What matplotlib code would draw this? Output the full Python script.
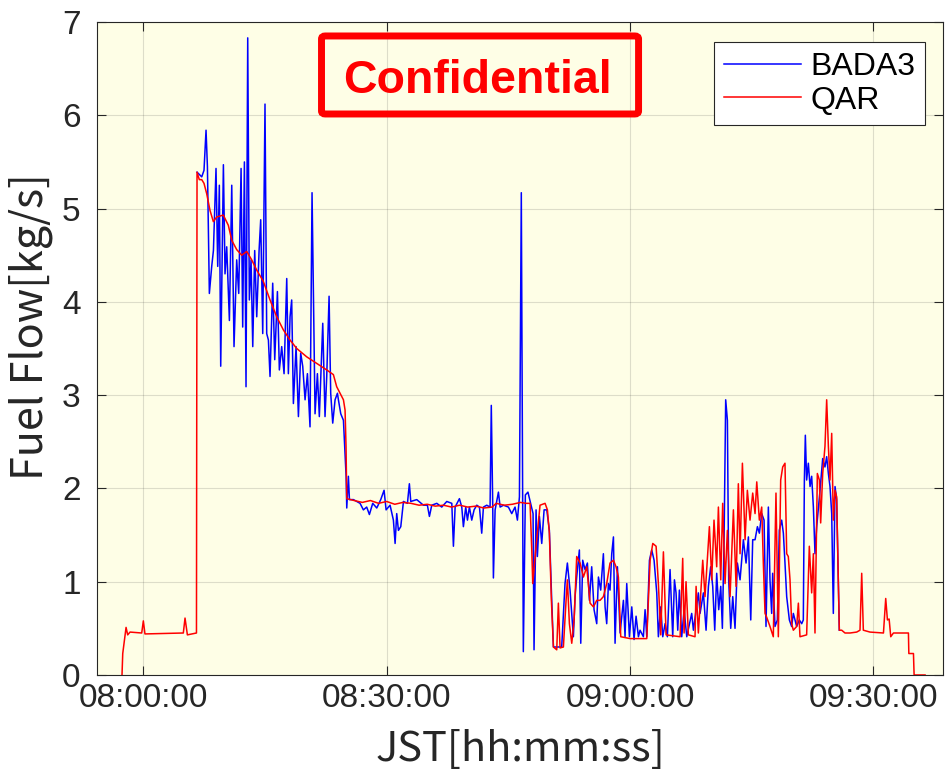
"""Fuel flow comparison: BADA3 model estimate vs. QAR recorded fuel flow."""

import matplotlib

matplotlib.use("Agg")
import matplotlib.pyplot as plt
from matplotlib.patches import FancyBboxPatch

# time in minutes after 08:00:00 JST, fuel flow in kg/s
qar_t = [
    -2.63, -2.54, -2.13, -1.93, -1.64, -0.20, 0.00, 0.20, 4.93, 5.14, 5.43, 6.55,
    6.62, 6.90, 7.20, 7.48, 7.81, 8.22, 8.63, 9.05, 9.86, 10.48, 10.90, 11.51,
    12.13, 12.75, 13.36, 13.98, 14.79, 15.62, 16.44, 17.26, 18.09, 18.91, 20.15,
    21.38, 22.61, 23.43, 23.84, 24.26, 24.67, 24.87, 24.99, 25.08, 26.0, 27.0,
    28.0, 29.0, 30.0, 31.0, 32.0, 33.0, 34.0, 35.0, 36.0, 37.0, 38.0, 39.0, 40.0,
    41.0, 42.0, 43.0, 43.5, 44.5, 45.5, 46.5, 47.2, 47.68, 47.89, 48.01, 48.30,
    48.58, 48.91, 49.53, 49.82, 50.06, 50.31, 50.56, 50.97, 51.17, 51.38, 51.79,
    52.12, 52.28, 52.53, 52.82, 53.11, 53.43, 53.85, 54.26, 54.67, 55.08, 55.49,
    55.90, 56.31, 56.72, 57.13, 57.54, 57.96, 58.28, 58.57, 58.86, 60.01, 62.07,
    62.48, 62.81, 63.22, 63.50, 63.79, 64.12, 64.45, 66.18, 66.50, 66.67, 66.91,
    67.20, 68.02, 68.15, 68.43, 68.97, 69.25, 69.79, 70.08, 70.36, 70.69, 70.90,
    71.19, 71.43, 71.72, 72.01, 72.34, 72.75, 73.08, 73.36, 73.57, 73.86, 74.19,
    74.47, 74.80, 75.13, 75.42, 75.63, 75.95, 76.24, 76.44, 76.65, 76.85, 77.26,
    77.67, 78.00, 78.29, 78.58, 78.83, 79.11, 79.32, 79.52, 79.73, 79.93, 80.14,
    80.55, 80.76, 80.96, 81.78, 82.11, 82.40, 82.61, 82.81, 83.10, 83.35, 83.51,
    83.76, 84.04, 84.25, 84.46, 84.66, 84.87, 85.07, 85.28, 85.48, 85.69, 85.81,
    86.10, 86.51, 87.13, 87.95, 88.36, 88.57, 88.77, 89.59, 91.25, 91.53, 91.74,
    91.95, 92.15, 92.48, 94.33, 94.38, 94.95, 95.03, 96.38,
]
qar_v = [
    0.00, 0.23, 0.51, 0.43, 0.46, 0.45, 0.58, 0.44, 0.45, 0.61, 0.43, 0.45,
    5.39, 5.31, 5.31, 5.27, 5.16, 4.98, 4.86, 4.91, 4.93, 4.82, 4.66, 4.56,
    4.50, 4.54, 4.45, 4.34, 4.22, 4.02, 3.84, 3.70, 3.59, 3.50, 3.41,
    3.34, 3.27, 3.22, 3.09, 3.02, 2.95, 2.84, 2.45, 1.89, 1.87, 1.85,
    1.87, 1.84, 1.86, 1.83, 1.85, 1.84, 1.82, 1.83, 1.81, 1.82, 1.80, 1.82, 1.80,
    1.81, 1.79, 1.80, 1.84, 1.82, 1.83, 1.85, 1.84, 1.84, 1.34, 0.98, 1.27,
    1.52, 1.82, 1.84, 1.77, 1.52, 0.80, 0.30, 0.27, 0.77, 0.29, 0.30,
    0.80, 1.02, 0.55, 0.34, 0.59, 1.27, 1.20, 1.05, 1.16, 0.77, 0.73,
    0.80, 0.80, 0.84, 0.98, 1.20, 1.23, 1.16, 1.05, 0.41, 0.39, 0.39,
    1.23, 1.41, 1.38, 0.98, 0.43, 1.32, 0.43, 0.41, 1.25, 0.45, 1.00,
    0.43, 0.41, 0.95, 0.45, 1.23, 0.84, 1.59, 1.02, 1.66, 1.16, 1.80,
    1.02, 1.84, 0.98, 1.55, 0.84, 1.77, 0.95, 2.05, 1.30, 2.27, 1.45,
    1.98, 1.66, 1.95, 1.73, 2.07, 1.66, 1.80, 1.20, 0.66, 0.62, 0.52,
    0.41, 1.95, 0.41, 2.09, 2.23, 2.27, 1.30, 1.27, 1.02, 0.55, 0.48,
    0.52, 0.77, 0.41, 0.43, 1.38, 0.88, 1.30, 0.45, 2.16, 2.09, 1.63,
    2.16, 2.45, 2.95, 2.45, 2.09, 2.59, 1.66, 1.98, 1.91, 1.02, 0.48,
    0.48, 0.45, 0.45, 0.46, 0.48, 1.09, 0.48, 0.46, 0.45, 0.82, 0.59,
    0.60, 0.41, 0.45, 0.45, 0.23, 0.23, 0.00, 0.00,
]

bada3_t = [
    6.62, 7.20, 7.48, 7.73, 7.90, 8.14, 8.43, 8.64, 8.96, 9.17, 9.37, 9.54, 9.87,
    10.07, 10.28, 10.61, 10.90, 11.18, 11.51, 11.76, 12.05, 12.25, 12.46, 12.66,
    12.87, 13.07, 13.28, 13.49, 13.73, 13.98, 14.27, 14.47, 14.72, 15.00, 15.21,
    15.42, 15.62, 15.95, 16.20, 16.53, 16.77, 17.06, 17.35, 17.68, 17.88, 18.09,
    18.29, 18.50, 18.83, 19.12, 19.40, 19.65, 19.94, 20.23, 20.55, 20.80, 21.17,
    21.46, 21.70, 22.12, 22.40, 22.61, 22.90, 23.10, 23.35, 23.64, 23.93, 24.05,
    24.34, 24.67, 25.00, 25.08, 25.28, 25.41, 25.90, 26.72, 27.13, 27.54, 27.87,
    28.28, 28.78, 29.27, 29.68, 29.93, 30.42, 30.83, 31.04, 31.24, 31.45, 31.74,
    32.07, 32.56, 32.80, 32.97, 33.71, 34.53, 35.02, 35.27, 35.56, 36.18, 36.79,
    37.41, 38.03, 38.23, 38.44, 38.97, 39.26, 39.46, 39.75, 39.96, 40.20, 40.49,
    40.78, 41.11, 41.44, 41.72, 41.93, 42.34, 42.75, 42.90, 43.08, 43.16, 43.37,
    43.78, 43.99, 44.40, 45.01, 45.42, 45.83, 46.12, 46.37, 46.60, 46.85, 47.10,
    47.42, 47.75, 48.05, 48.17, 48.42, 48.58, 48.83, 49.12, 49.41, 49.74, 50.06,
    50.35, 50.56, 51.58, 51.99, 52.28, 52.61, 53.02, 53.23, 53.43, 53.76, 53.93,
    54.17, 54.46, 54.75, 55.00, 55.28, 55.57, 55.90, 56.11, 56.39, 56.72, 56.93,
    57.13, 57.34, 57.54, 57.75, 57.96, 58.16, 58.45, 58.78, 59.19, 59.39, 59.60,
    59.93, 60.22, 60.50, 60.75, 61.04, 61.24, 61.65, 61.86, 62.07, 62.40, 62.68,
    62.97, 63.30, 63.50, 63.79, 64.04, 64.33, 64.61, 64.94, 65.27, 65.48, 65.68,
    65.89, 66.09, 66.38, 66.67, 67.00, 67.61, 67.82, 68.43, 68.64, 69.05, 69.38,
    69.67, 69.95, 70.20, 70.45, 70.69, 70.94, 71.19, 71.39, 71.60, 71.80, 72.01,
    72.17, 72.42, 72.67, 72.95, 73.24, 73.57, 73.98, 74.31, 74.60, 74.89, 75.13,
    75.42, 75.71, 75.95, 76.24, 76.53, 76.77, 77.06, 77.26, 77.47, 77.59, 77.88,
    78.17, 78.41, 78.70, 78.91, 79.11, 79.32, 79.65, 79.93, 80.14, 80.55, 80.88,
    81.17, 81.37, 81.50, 81.62, 81.78, 81.99, 82.20, 82.40, 82.61, 82.81, 83.02,
    83.43, 83.76, 84.04, 84.25, 84.46, 84.66, 84.87, 85.07, 85.28, 85.48, 85.69,
    85.81,
]
bada3_v = [
    5.39, 5.34, 5.41, 5.84, 5.45, 4.09, 4.38, 4.55, 5.43, 4.38, 5.25, 3.31, 5.47,
    4.30, 4.59, 3.80, 5.25, 3.52, 4.45, 4.09, 5.43, 3.73, 5.50, 3.09,
    6.83, 4.02, 4.45, 3.52, 4.55, 3.84, 4.55, 4.88, 3.66, 6.12, 3.66,
    3.59, 3.20, 4.20, 3.38, 4.11, 3.27, 3.52, 3.23, 4.25, 3.23, 3.84,
    4.02, 2.91, 3.52, 2.77, 3.45, 3.31, 2.95, 3.23, 2.66, 5.17, 2.80,
    3.23, 2.77, 3.77, 2.77, 3.20, 4.06, 3.02, 2.70, 2.95, 3.02, 2.95,
    2.80, 2.73, 2.13, 1.79, 2.13, 1.88, 1.88, 1.84, 1.77, 1.80, 1.72,
    1.84, 1.79, 1.88, 1.98, 1.77, 1.82, 1.66, 1.41, 1.73, 1.55, 1.59,
    1.86, 1.84, 2.05, 1.86, 1.88, 1.82, 1.82, 1.70, 1.82, 1.84, 1.80,
    1.86, 1.84, 1.38, 1.80, 1.89, 1.80, 1.59, 1.80, 1.66, 1.80, 1.66,
    1.77, 1.82, 1.80, 1.52, 1.80, 1.82, 1.80, 2.89, 1.80, 1.04, 1.77,
    1.96, 1.80, 1.82, 1.80, 1.73, 1.80, 1.66, 1.91, 5.17, 0.25, 1.93,
    1.96, 1.84, 1.73, 0.27, 1.77, 1.27, 1.70, 1.41, 1.77, 1.77, 1.55,
    0.80, 0.30, 0.30, 0.98, 1.20, 0.91, 0.41, 0.84, 1.05, 1.34, 0.34,
    1.23, 1.13, 1.20, 0.80, 1.16, 0.70, 0.55, 1.05, 0.91, 1.30, 0.73,
    0.55, 0.98, 0.91, 1.30, 1.48, 0.34, 1.16, 0.45, 0.80, 0.41, 0.98,
    0.41, 0.73, 0.38, 0.63, 0.41, 0.48, 0.41, 0.70, 0.41, 1.23, 1.34,
    1.23, 0.88, 0.41, 0.73, 0.41, 0.55, 0.41, 1.13, 0.41, 1.02, 0.88,
    0.48, 0.91, 0.41, 0.70, 0.41, 0.66, 0.48, 0.88, 0.66, 0.88, 0.48,
    0.95, 1.16, 0.95, 0.48, 1.09, 0.70, 0.95, 0.50, 1.45, 2.95, 2.73,
    1.02, 0.50, 0.84, 0.50, 1.20, 1.02, 1.45, 1.20, 1.48, 0.59, 1.45,
    1.45, 1.59, 1.52, 1.73, 1.66, 0.52, 1.80, 1.02, 0.66, 1.09, 0.52,
    0.59, 1.55, 1.66, 1.52, 1.20, 0.84, 0.59, 0.52, 0.66, 0.52, 0.59,
    0.55, 0.59, 2.09, 2.57, 2.09, 2.27, 2.02, 2.13, 1.80, 1.30, 1.59,
    1.98, 2.32, 2.23, 2.34, 2.16, 2.02, 1.73, 0.66, 2.02, 1.88, 1.02,
    0.48,
]

x_ticks = [0, 30, 60, 90]
x_tick_labels = ["08:00:00", "08:30:00", "09:00:00", "09:30:00"]
y_ticks = [0, 1, 2, 3, 4, 5, 6, 7]

TICK_FONT = ["Liberation Sans", "DejaVu Sans"]
LABEL_FONT = ["Noto Sans CJK JP", "DejaVu Sans"]

fig = plt.figure(figsize=(9.47, 7.77), dpi=100)
ax = fig.add_axes([0.1028, 0.1313, 0.8933, 0.8404])
ax.set_facecolor("#FEFEE6")

ax.plot(bada3_t, bada3_v, color="#0000FF", linewidth=1.1, label="BADA3")
ax.plot(qar_t, qar_v, color="#FF0000", linewidth=1.1, label="QAR")

ax.set_xlim(-5.67, 98.63)
ax.set_ylim(0, 7)
ax.set_xticks(x_ticks)
ax.set_xticklabels(x_tick_labels)
ax.set_yticks(y_ticks)

ax.grid(True, color="#262626", alpha=0.15, linewidth=0.8)
ax.set_axisbelow(True)
ax.tick_params(direction="in", length=6.5, width=0.8, color="#262626",
               top=True, right=True, labelsize=24, labelcolor="#262626")
ax.tick_params(axis="x", pad=6)
ax.tick_params(axis="y", pad=12)
for label in ax.get_xticklabels() + ax.get_yticklabels():
    label.set_family(TICK_FONT)
for spine in ax.spines.values():
    spine.set_color("#262626")
    spine.set_linewidth(0.8)

ax.set_xlabel("JST[hh:mm:ss]", fontsize=30, family=LABEL_FONT, color="#262626")
ax.set_ylabel("Fuel Flow[kg/s]", fontsize=31, family=LABEL_FONT, color="#262626")
ax.xaxis.set_label_coords(0.5, -0.082)
ax.yaxis.set_label_coords(-0.052, 0.533)

legend = ax.legend(loc="upper right", bbox_to_anchor=(0.978, 0.969),
                   borderaxespad=0, fancybox=False, framealpha=1,
                   edgecolor="#262626", handlelength=2.4, handletextpad=0.3,
                   labelspacing=0.12, borderpad=0.3,
                   prop={"family": TICK_FONT, "size": 23})
legend.get_frame().set_linewidth(0.8)

# the red "Confidential" stamp across the top of the plot area
stamp = FancyBboxPatch((0.3395, 0.8533), 0.3348, 0.1004,
                       boxstyle="round,pad=0,rounding_size=0.004",
                       transform=fig.transFigure, facecolor="none",
                       edgecolor="#FF0000", linewidth=5.0)
fig.patches.append(stamp)
fig.text(0.5042, 0.880, "Confidential", color="#FF0000", fontsize=33.5,
         fontweight="bold", family=TICK_FONT, ha="center", va="baseline")

fig.savefig("out.png", dpi=100, facecolor="white")
